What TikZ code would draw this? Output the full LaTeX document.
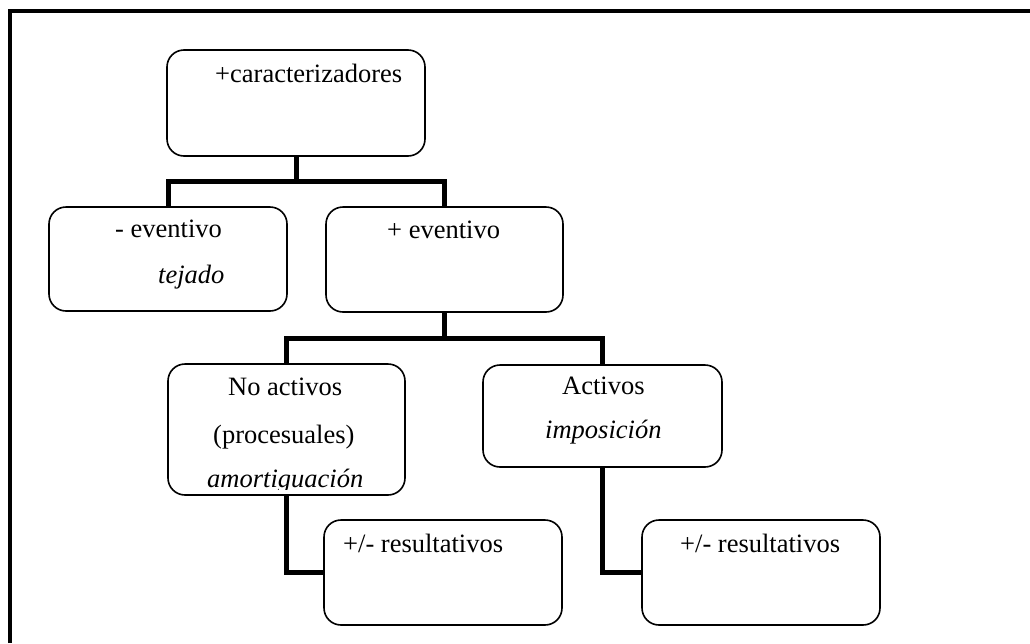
\documentclass[tikz,border=0pt]{standalone}
\usepackage{fontspec}
\setmainfont{Liberation Serif}
\begin{document}
\begin{tikzpicture}[x=1pt,y=-1pt,
  box/.style={draw=black,line width=1.6pt,rounded corners=17pt,inner sep=0pt},
  link/.style={draw=black,line width=5pt},
  txt/.style={anchor=base west,inner sep=0pt,font=\fontsize{26.5}{30}\selectfont},
  itxt/.style={txt,font=\fontsize{26.5}{30}\selectfont\itshape}]
  \useasboundingbox (0,0) rectangle (1030,643);
  \fill[white] (0,0) rectangle (1030,643);
  % frame
  \draw[line width=4pt] (10,643) -- (10,11) -- (1030,11);

  % boxes
  \node[box,minimum width=258pt,minimum height=106pt] (top) at (296,103) {};
  \node[box,minimum width=238pt,minimum height=104pt] (neg) at (168,259) {};
  \node[box,minimum width=237pt,minimum height=105pt] (pos) at (444.5,259.5) {};
  \node[box,minimum width=237pt,minimum height=131pt] (noact) at (286.5,429.5) {};
  \node[box,minimum width=239pt,minimum height=102pt] (act) at (602.5,416) {};
  \node[box,minimum width=238pt,minimum height=105pt] (resA) at (443,572.5) {};
  \node[box,minimum width=238pt,minimum height=105pt] (resB) at (761,572.5) {};

  % connectors
  \draw[link] (top.south) -- ++(0,25) coordinate (j1) -| (neg.north);
  \draw[link] (j1) -| (pos.north);
  \draw[link] (pos.south) -- ++(0,26) coordinate (j2) -| (noact.north);
  \draw[link] (j2) -| (act.north);
  \draw[link] (noact.south) |- (resA.west);
  \draw[link] (act.south) |- (resB.west);

  % labels
  \node[txt] (tTop) at (215,82) {+caracterizadores};
  \node[txt] (tNeg) at (115,237) {- eventivo};
  \node[itxt] (tNegEx) at (158,283) {tejado};
  \node[txt] (tPos) at (387,238) {+ eventivo};
  \node[txt] (tNo1) at (228,395) {No activos};
  \node[txt] (tNo2) at (213,443) {(procesuales)};
  \begin{scope}
    \clip (168,364) rectangle (405,489);
    \node[itxt] (tNoEx) at (207,487) {amortiguación};
  \end{scope}
  \node[txt] (tAct) at (562,394) {Activos};
  \node[itxt] (tActEx) at (545,438) {imposición};
  \node[txt] (tResA) at (343,552) {+/- resultativos};
  \node[txt] (tResB) at (680,552) {+/- resultativos};
\end{tikzpicture}
\end{document}
